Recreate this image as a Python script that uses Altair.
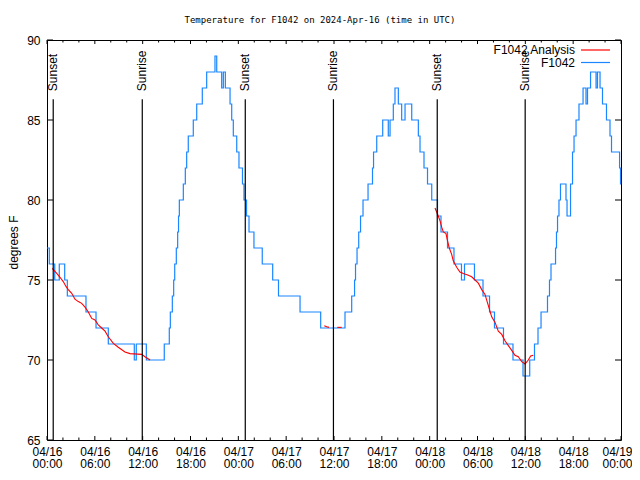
import json
import altair as alt
import pandas as pd

title_text = "Temperature for F1042 on 2024-Apr-16 (time in UTC)"

# Observed F1042 temperature (hours since 04/16 00:00 UTC, degrees F), step series
obs_hours = [0.00, 0.29, 0.97, 1.54, 2.22, 2.55, 4.89, 6.15, 7.69, 10.95, 11.20, 12.46,
             14.71, 15.34, 15.47, 15.72, 15.89, 16.02, 16.22, 16.39, 16.50, 16.60, 17.10,
             17.35, 17.52, 17.72, 18.35, 18.78, 19.48, 20.03, 21.07, 21.29, 21.91, 22.12,
             22.37, 22.96, 23.17, 23.37, 23.80, 24.08, 24.52, 24.71, 25.03, 25.34, 25.96,
             27.00, 28.31, 29.04, 31.74, 34.33, 37.38, 38.22, 38.58, 38.70, 38.89, 39.10,
             39.33, 39.64, 40.27, 40.83, 40.96, 41.36, 42.11, 42.81, 43.03, 43.44, 43.65,
             44.07, 44.49, 44.91, 45.75, 46.58, 46.79, 47.29, 47.73, 48.26, 48.98, 49.42,
             50.24, 51.05, 51.99, 52.37, 53.62, 54.69, 55.51, 56.13, 57.26, 58.45, 59.71,
             60.55, 61.15, 61.59, 61.97, 62.78, 63.03, 63.22, 63.79, 63.91, 64.04, 64.22,
             64.41, 65.10, 65.23, 65.67, 65.92, 66.11, 66.36, 66.73, 67.24, 67.61, 67.80,
             68.18, 68.87, 69.05, 69.37, 69.68, 70.18, 70.62, 70.81, 71.82, 71.94, 72.00]
obs_temps = [77, 76, 75, 76, 75, 74, 73, 72, 71, 70, 71, 70,
             71, 72, 73, 74, 75, 76, 77, 78, 79, 80, 81,
             82, 83, 84, 85, 86, 87, 88, 89, 88, 87, 88,
             87, 86, 85, 84, 83, 82, 81, 80, 79, 78, 77,
             76, 75, 74, 73, 72, 73, 74, 75, 76, 77, 78,
             79, 80, 81, 82, 83, 84, 85, 84, 85, 86, 87,
             86, 85, 86, 85, 84, 83, 82, 81, 80, 79, 78,
             77, 76, 75, 76, 75, 74, 73, 72, 71, 70, 69,
             70, 71, 72, 73, 74, 75, 76, 77, 78, 79, 80,
             81, 80, 79, 81, 83, 84, 85, 86, 87, 86, 87,
             88, 87, 88, 87, 86, 85, 84, 83, 82, 81, 81]

# Analysis series, in separate pieces
ana_seg = [1] * 25 + [2] * 3 + [3] * 2 + [4] * 34
ana_hours = [0.66, 1.22, 1.63, 2.04, 2.38, 2.67, 3.10, 3.51, 3.93, 4.35, 4.77, 5.18, 5.61,
             6.02, 6.43, 6.86, 7.28, 7.69, 8.32, 8.94, 9.78, 10.41, 11.88, 12.29, 12.92,
             34.78, 35.09, 35.37,
             36.41, 36.97,
             48.67, 49.08, 49.30, 49.51, 49.71, 50.05, 50.21, 50.46, 50.76, 50.96, 51.39,
             51.80, 52.22, 52.85, 53.27, 53.69, 54.10, 54.53, 54.94, 55.36, 55.78, 56.20,
             56.61, 57.04, 57.45, 57.87, 58.29, 58.70, 59.12, 59.55, 59.96, 60.37, 60.67, 61.00]
ana_temps = [75.73, 75.42, 75.17, 74.90, 74.60, 74.40, 74.17, 73.80, 73.65, 73.54, 73.30, 73.00, 72.60,
             72.50, 72.20, 72.00, 71.80, 71.45, 71.04, 70.80, 70.50, 70.40, 70.35, 70.20, 70.00,
             72.14, 72.08, 72.04,
             72.04, 72.04,
             79.50, 79.00, 78.70, 78.30, 78.00, 77.90, 77.50, 77.00, 76.60, 76.20, 75.80,
             75.50, 75.40, 75.30, 75.20, 75.00, 74.80, 74.40, 74.10, 73.40, 72.70, 72.35,
             71.80, 71.60, 71.20, 70.90, 70.60, 70.30, 70.20, 69.90, 69.75, 70.00, 70.25, 70.30]

sun_hours = [0.78, 11.95, 24.87, 35.93, 48.95, 59.98]
sun_labels = ["Sunset", "Sunrise", "Sunset", "Sunrise", "Sunset", "Sunrise"]

x_major = list(range(0, 73, 6))
x_minor = [h for h in range(0, 73, 2) if h % 6 != 0]
x_label_dates = ["04/16", "04/16", "04/16", "04/16", "04/17", "04/17", "04/17",
                 "04/17", "04/18", "04/18", "04/18", "04/18", "04/19"]
x_label_times = ["00:00", "06:00", "12:00", "18:00", "00:00", "06:00", "12:00",
                 "18:00", "00:00", "06:00", "12:00", "18:00", "00:00"]
y_ticks = [65, 70, 75, 80, 85, 90]

legend_names = ["F1042 Analysis", "F1042"]
RED = "#ff0000"
BLUE = "#1a86ff"

W, H = 574, 400
FONT = "Liberation Sans"

xs = alt.Scale(domain=[0, 72], nice=False, zero=False)
ys = alt.Scale(domain=[65, 90], nice=False, zero=False)

obs_df = pd.DataFrame({"h": obs_hours, "t": obs_temps})
ana_df = pd.DataFrame({"h": ana_hours, "t": ana_temps, "seg": ana_seg})
sun_df = pd.DataFrame({"h": sun_hours, "label": sun_labels})
xmaj_df = pd.DataFrame({"h": x_major})
xmin_df = pd.DataFrame({"h": x_minor})
yt_df = pd.DataFrame({"t": y_ticks})

label_expr = "[" + json.dumps(x_label_dates) + "[round(datum.value/6)], " + \
             json.dumps(x_label_times) + "[round(datum.value/6)]]"

x_axis = alt.Axis(values=x_major, labelExpr=label_expr, tickSize=0, domain=False, grid=False,
                  labelFont=FONT, labelFontSize=12, labelColor="black", labelPadding=6,
                  labelLineHeight=12.5, labelOverlap=False, labelFlush=False, title=None,
                  labelOffset={"condition": {"test": "datum.value >= 72", "value": -4}, "value": 0})
y_axis = alt.Axis(values=y_ticks, tickSize=0, domain=False, grid=False,
                  labelFont=FONT, labelFontSize=12, labelColor="black", labelPadding=7,
                  title="degrees F", titleFont=FONT, titleFontSize=12, titleFontWeight="normal",
                  titleColor="black", titleX=-34, titleY=202, titleAngle=270,
                  titleAlign="center", titleBaseline="middle")

X = alt.X("h:Q", scale=xs, axis=x_axis)
Y = alt.Y("t:Q", scale=ys, axis=y_axis)

obs_line = alt.Chart(obs_df).mark_line(color=BLUE, strokeWidth=1.2, interpolate="step-after").encode(
    x=X, y=Y)

ana_line = alt.Chart(ana_df).mark_line(color=RED, strokeWidth=1.1).encode(
    x=X, y=Y, detail="seg:N")

sun_rules = alt.Chart(sun_df).mark_rule(color="black", strokeWidth=1.2).encode(
    x=X, y=alt.datum(86.3), y2=alt.datum(65))
sun_text = alt.Chart(sun_df).mark_text(angle=270, align="left", baseline="middle",
                                       font=FONT, fontSize=12, color="black").encode(
    x=X, y=alt.datum(86.8), text="label:N")

tick_style = dict(color="black", strokeWidth=1)
xmaj_bot = alt.Chart(xmaj_df).mark_rule(**tick_style).encode(
    x=X, y=alt.value(H), y2=alt.value(H - 4))
xmaj_top = alt.Chart(xmaj_df).mark_rule(**tick_style).encode(
    x=X, y=alt.value(0), y2=alt.value(4))
xmin_bot = alt.Chart(xmin_df).mark_rule(**tick_style).encode(
    x=X, y=alt.value(H), y2=alt.value(H - 2.5))
xmin_top = alt.Chart(xmin_df).mark_rule(**tick_style).encode(
    x=X, y=alt.value(0), y2=alt.value(2.5))
yt_left = alt.Chart(yt_df).mark_rule(**tick_style).encode(
    y=Y, x=alt.value(0), x2=alt.value(6))
yt_right = alt.Chart(yt_df).mark_rule(**tick_style).encode(
    y=Y, x=alt.value(W - 6), x2=alt.value(W))

title = alt.Chart(pd.DataFrame({"s": [title_text]})).mark_text(
    font="DejaVu Sans Mono", fontSize=9, color="black", align="center", baseline="middle").encode(
    x=alt.value(273), y=alt.value(-20), text="s:N")

leg_text1 = alt.Chart(pd.DataFrame({"s": [legend_names[0]]})).mark_text(
    font=FONT, fontSize=12, color="black", align="right", baseline="middle").encode(
    x=alt.value(528), y=alt.value(10), text="s:N")
leg_text2 = alt.Chart(pd.DataFrame({"s": [legend_names[1]]})).mark_text(
    font=FONT, fontSize=12, color="black", align="right", baseline="middle").encode(
    x=alt.value(528), y=alt.value(22.5), text="s:N")
leg_line1 = alt.Chart(pd.DataFrame({"s": [legend_names[0]]})).mark_rule(color=RED, strokeWidth=1.2).encode(
    x=alt.value(534), x2=alt.value(563), y=alt.value(10))
leg_line2 = alt.Chart(pd.DataFrame({"s": [legend_names[1]]})).mark_rule(color=BLUE, strokeWidth=1.2).encode(
    x=alt.value(534), x2=alt.value(563), y=alt.value(22.5))

chart = alt.layer(
    obs_line, ana_line, sun_rules, sun_text,
    xmaj_bot, xmaj_top, xmin_bot, xmin_top, yt_left, yt_right,
    title, leg_text1, leg_text2, leg_line1, leg_line2,
).properties(
    width=W, height=H,
    padding={"left": 39, "top": 32, "right": 11, "bottom": 32},
    autosize=alt.AutoSizeParams(type="none"),
    background="white",
).configure_view(stroke="black", strokeWidth=1)

chart.save("out.html", embed_options={"renderer": "svg", "actions": False})
